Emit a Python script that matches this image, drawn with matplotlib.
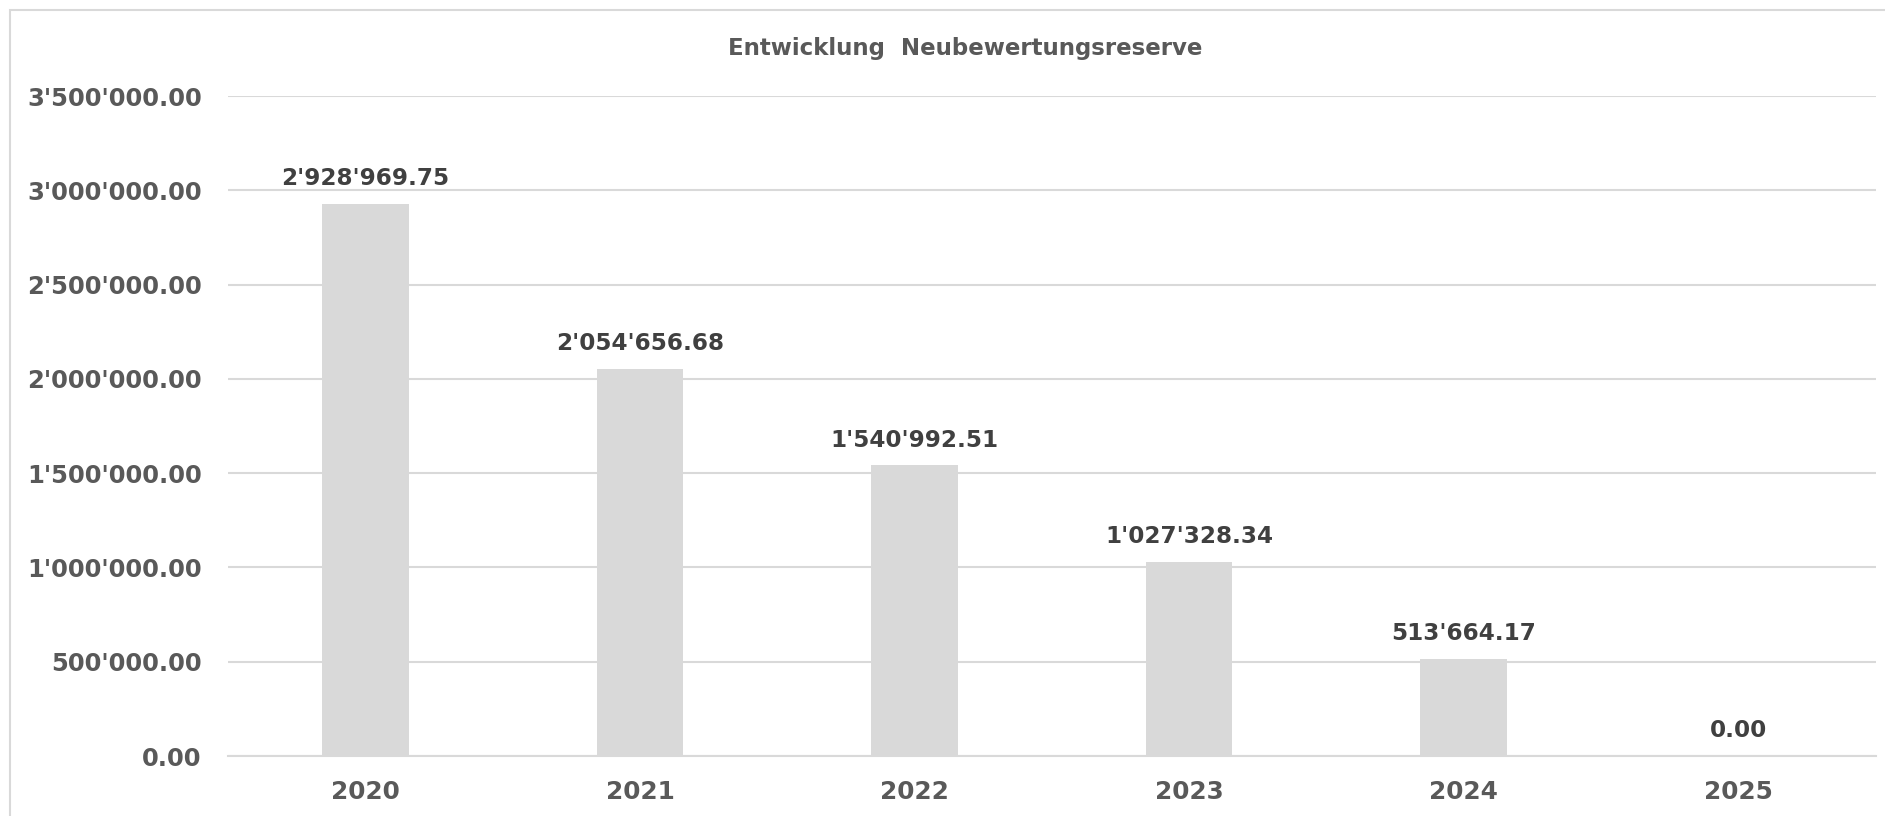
import matplotlib.pyplot as plt
from matplotlib.patches import Rectangle
from matplotlib.ticker import FuncFormatter, MultipleLocator

# Neubewertungsreserve per year
YEARS = ["2020", "2021", "2022", "2023", "2024", "2025"]
VALUES = [2928969.75, 2054656.68, 1540992.51, 1027328.34, 513664.17, 0.00]

TITLE = "Entwicklung  Neubewertungsreserve"
BAR_COLOR = "#d9d9d9"
GRID_COLOR = "#d9d9d9"
AXIS_TEXT = "#595959"
LABEL_TEXT = "#404040"


def swiss(v, _pos=None):
    return f"{v:,.2f}".replace(",", "'")


def main():
    plt.rcParams["font.family"] = ["DejaVu Sans"]
    fig = plt.figure(figsize=(18.85, 8.16), dpi=100)
    ax = fig.add_axes([0.121, 0.0735, 0.874, 0.8088])

    # chart-area frame (light grey, as in the spreadsheet export)
    fig.patches.append(Rectangle((10 / 1885, -0.1), 1.2, 1 - 10 / 816 + 0.1,
                                 transform=fig.transFigure, fill=False,
                                 edgecolor=GRID_COLOR, linewidth=1.5))

    x = range(len(YEARS))
    ax.bar(x, VALUES, width=0.315, color=BAR_COLOR, zorder=2)
    for xi, v in zip(x, VALUES):
        ax.annotate(swiss(v), (xi, v), xytext=(0, 10), textcoords="offset points",
                    ha="center", va="bottom", fontsize=16.7, fontweight="bold",
                    color=LABEL_TEXT)

    ax.set_xlim(-0.5, len(YEARS) - 0.5)
    ax.set_ylim(0, 3500000)
    ax.yaxis.set_major_locator(MultipleLocator(500000))
    ax.yaxis.set_major_formatter(FuncFormatter(swiss))
    ax.set_xticks(list(x))
    ax.set_xticklabels(YEARS)

    ax.grid(axis="y", color=GRID_COLOR, linewidth=1.5, zorder=0)
    ax.set_axisbelow(True)
    for s in ("top", "right", "left"):
        ax.spines[s].set_visible(False)
    ax.spines["bottom"].set_color(GRID_COLOR)
    ax.spines["bottom"].set_linewidth(1.5)
    ax.tick_params(axis="y", length=0, labelsize=17.5, labelcolor=AXIS_TEXT, pad=19)
    ax.tick_params(axis="x", length=0, labelsize=17.8, labelcolor=AXIS_TEXT, pad=17)
    for lbl in ax.get_xticklabels() + ax.get_yticklabels():
        lbl.set_fontweight("bold")

    fig.text(0.512, 0.94, TITLE, ha="center", va="center", fontsize=16.5,
             fontweight="bold", color=AXIS_TEXT)

    fig.savefig("out.png", dpi=100, facecolor="white")


if __name__ == "__main__":
    main()
